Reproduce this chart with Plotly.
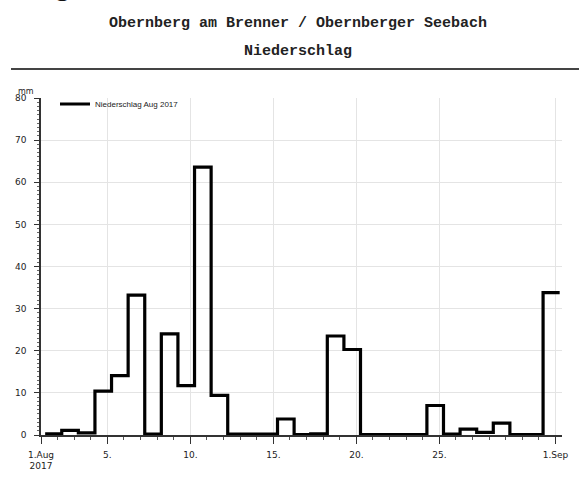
import pandas as pd
import plotly.graph_objects as go

# ---- data ----
days = list(range(1, 32))  # day of August 2017
precip_mm = [0.3, 1.1, 0.5, 10.4, 14.1, 33.2, 0.2, 24.0, 11.7, 63.6,
             9.4, 0.2, 0.2, 0.2, 3.8, 0.1, 0.3, 23.5, 20.3, 0.1,
             0.1, 0.1, 0.1, 7.0, 0.2, 1.4, 0.6, 2.8, 0.1, 0.1, 33.8]
series_name = "Niederschlag Aug 2017"
tick_days = [1, 5, 10, 15, 20, 25, 32]
tick_labels = ["1.Aug<br>2017", "5.", "10.", "15.", "20.", "25.", "1.Sep"]
title_line1 = "Obernberg am Brenner / Obernberger Seebach"
title_line2 = "Niederschlag"
unit_label = "mm"

start = pd.Timestamp("2017-08-01")
obs_time = pd.Timedelta(hours=6)
x_vals = [start + pd.Timedelta(days=d - 1) + obs_time for d in days]
x_vals.append(x_vals[-1] + pd.Timedelta(days=1))
y_vals = precip_mm + [precip_mm[-1]]
tick_vals = [start + pd.Timedelta(days=d - 1) for d in tick_days]

W, H = 579, 479
L, R, T, B = 41, 17, 98, 44
pw, ph = W - L - R, H - T - B

def px_x(p):
    return (p - L) / pw

def px_y(p):
    return (H - B - p) / ph

fig = go.Figure()
fig.add_trace(go.Scatter(
    x=x_vals, y=y_vals, mode="lines", name=series_name,
    line=dict(color="black", width=3.2, shape="hv"),
    showlegend=True,
))

tick_font = dict(family="DejaVu Sans", size=9, color="#222")

fig.update_layout(
    width=W, height=H,
    margin=dict(l=L, r=R, t=T, b=B, autoexpand=False),
    paper_bgcolor="white", plot_bgcolor="white",
    showlegend=True,
    legend=dict(x=px_x(55), y=px_y(104), xanchor="left", yanchor="middle",
                bgcolor="rgba(0,0,0,0)", font=dict(family="Liberation Sans", size=8, color="#222"),
                itemwidth=30, tracegroupgap=0),
    xaxis=dict(
        type="date", automargin=False,
        range=[start, start + pd.Timedelta(days=31.39)],
        tickmode="array", tickvals=tick_vals, ticktext=tick_labels,
        ticks="outside", ticklen=7, tickwidth=1.3, tickcolor="#333",
        showline=True, linecolor="#333", linewidth=1.5,
        showgrid=True, gridcolor="#e4e4e4", gridwidth=1,
        zeroline=False, tickfont=tick_font, ticklabelstandoff=3,
        minor=dict(dtick=86400000, ticks="outside", ticklen=3, tickcolor="#555", showgrid=False),
    ),
    yaxis=dict(
        range=[0, 80], dtick=10, tick0=0, automargin=False,
        ticks="outside", ticklen=5, tickwidth=1.3, tickcolor="#333",
        showline=True, linecolor="#333", linewidth=1.5,
        showgrid=True, gridcolor="#e4e4e4", gridwidth=1,
        zeroline=False, tickfont=tick_font, ticklabelstandoff=6,
        minor=dict(dtick=1, ticks="outside", ticklen=2, tickcolor="#666", showgrid=False),
    ),
)

title_font = dict(family="Liberation Mono", size=15, color="#222", weight="bold")
fig.add_annotation(text=title_line1, xref="paper", yref="paper",
                   x=px_x(297.5), y=px_y(24), xanchor="center", yanchor="middle",
                   showarrow=False, font=title_font)
fig.add_annotation(text=title_line2, xref="paper", yref="paper",
                   x=px_x(297.5), y=px_y(52), xanchor="center", yanchor="middle",
                   showarrow=False, font=title_font)
fig.add_annotation(text=unit_label, xref="paper", yref="paper",
                   x=px_x(26), y=px_y(91), xanchor="center", yanchor="middle",
                   showarrow=False, font=dict(family="DejaVu Sans", size=8, color="#222"))
fig.add_annotation(text="g", xref="paper", yref="paper",
                   x=px_x(62), y=px_y(-20), xanchor="center", yanchor="middle",
                   showarrow=False, font=dict(family="Liberation Sans", size=38, color="#111"))

fig.add_shape(type="line", xref="paper", yref="paper",
              x0=px_x(11), x1=px_x(579), y0=px_y(69), y1=px_y(69),
              line=dict(color="#444", width=2))

fig.write_html("out.html", config={"displayModeBar": False},
               post_script="document.body.style.margin='0';document.body.style.padding='0';")
